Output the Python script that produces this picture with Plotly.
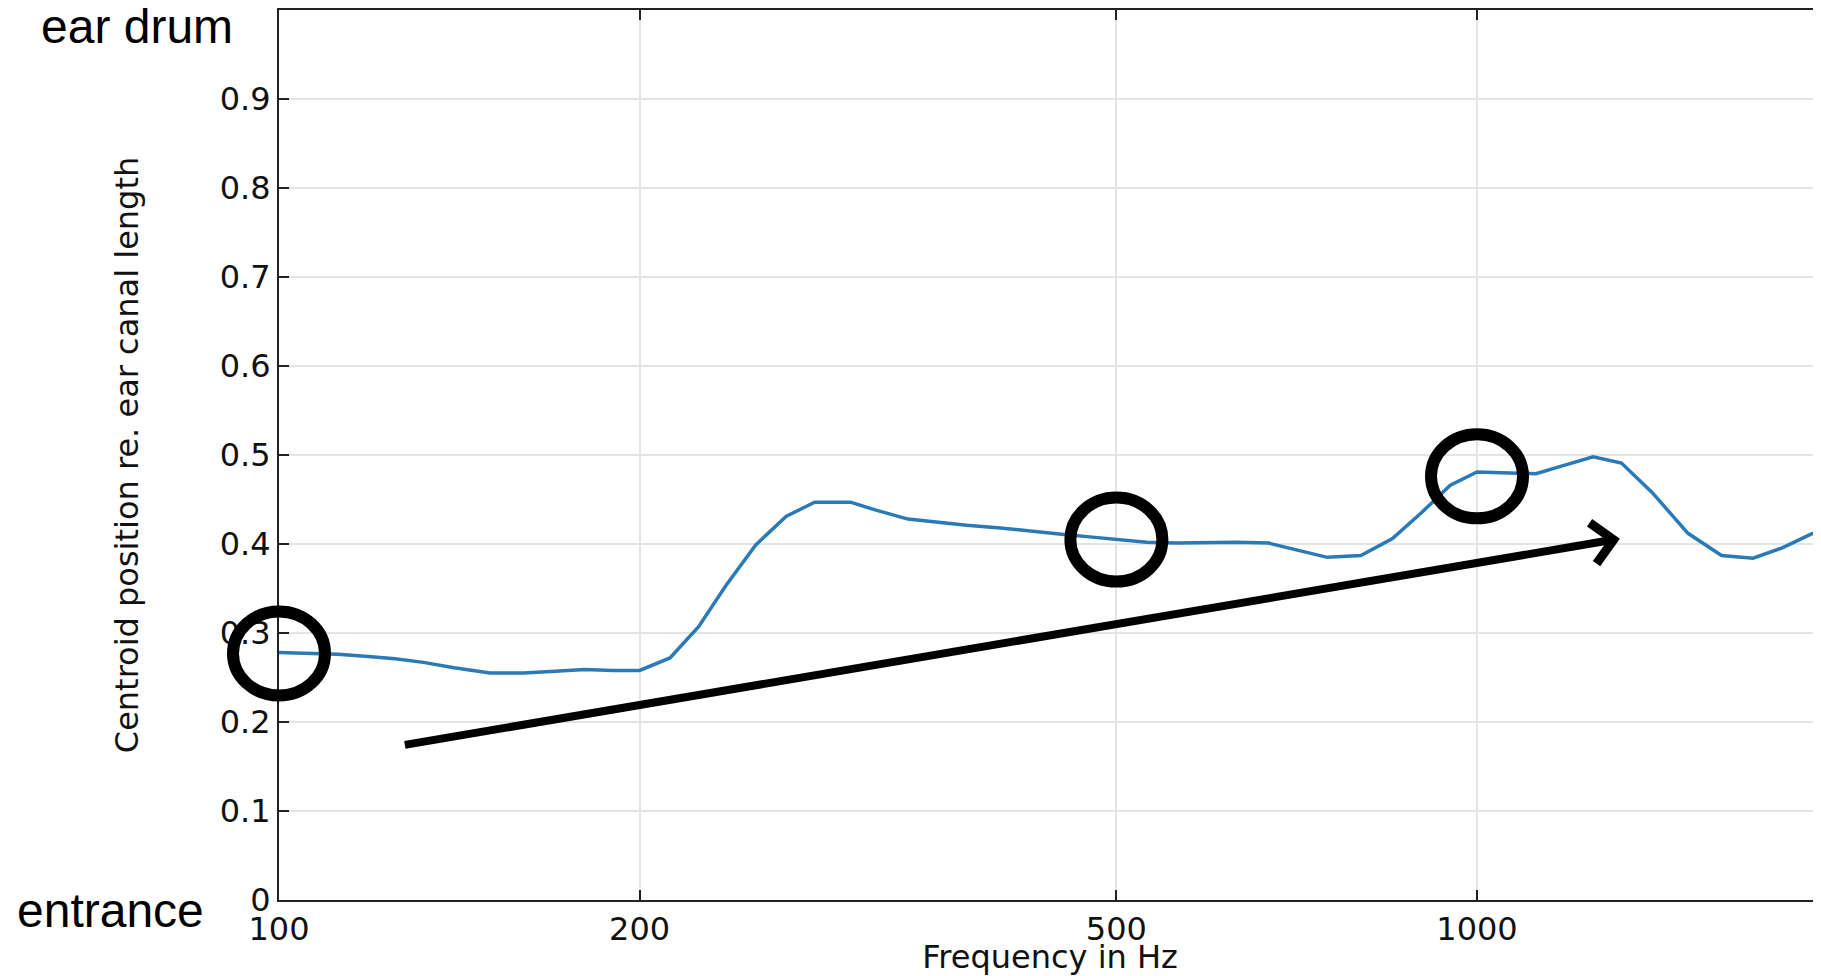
import math
import plotly.graph_objects as go

# ---- data ----
freqs = [100, 106, 112, 118, 125, 132, 140, 150, 160, 170, 180, 190, 200,
         212, 224, 236, 250, 265, 280, 300, 315, 335, 355, 375, 400, 425,
         450, 475, 500, 530, 560, 600, 630, 670, 710, 750, 800, 850, 900,
         950, 1000, 1060, 1120, 1180, 1250, 1320, 1400, 1500, 1600, 1700,
         1800, 1900, 2000]
centroid = [0.278, 0.277, 0.276, 0.274, 0.271, 0.267, 0.261, 0.255, 0.255,
            0.257, 0.259, 0.258, 0.258, 0.272, 0.307, 0.353, 0.399, 0.431,
            0.447, 0.447, 0.438, 0.428, 0.424, 0.421, 0.418, 0.414, 0.411,
            0.408, 0.405, 0.402, 0.401, 0.402, 0.402, 0.401, 0.393, 0.385,
            0.387, 0.406, 0.436, 0.466, 0.481, 0.480, 0.479, 0.488, 0.498,
            0.491, 0.458, 0.412, 0.387, 0.384, 0.396, 0.411, 0.422]

x_tick_vals = [100, 200, 500, 1000, 2000]
x_tick_text = ["100", "200", "500", "1000", "2000"]
y_tick_vals = [0, 0.1, 0.2, 0.3, 0.4, 0.5, 0.6, 0.7, 0.8, 0.9]
y_tick_text = ["0", "0.1", "0.2", "0.3", "0.4", "0.5", "0.6", "0.7", "0.8", "0.9"]

circle_freqs = [100, 500, 1000]
circle_values = [0.277, 0.405, 0.476]

arrow_start = (127, 0.174)
arrow_end = (1316, 0.406)

x_min, x_max = 100, 1937

# ---- figure ----
fig = go.Figure()
fig.add_trace(go.Scatter(
    x=freqs, y=centroid, mode="lines",
    line=dict(color="#2a7ab5", width=3.5),
    showlegend=False, hoverinfo="skip",
))

font = "DejaVu Sans"
axis_common = dict(
    showline=True, linecolor="#222222", linewidth=2,
    ticks="inside", ticklen=10, tickwidth=2, tickcolor="#222222",
    showgrid=True, gridcolor="#e4e4e4", gridwidth=1.5,
    zeroline=False,
    tickfont=dict(family=font, size=32, color="#111111"),
)

fig.update_xaxes(
    type="log", range=[math.log10(x_min), math.log10(x_max)],
    tickvals=x_tick_vals, ticktext=x_tick_text, mirror="ticks",
    title=dict(text="Frequency in Hz", font=dict(family=font, size=32, color="#111111"),
               standoff=0),
    **axis_common,
)
fig.update_yaxes(
    range=[0, 1], tickvals=y_tick_vals, ticktext=y_tick_text, mirror=False,
    title=dict(text="Centroid position re. ear canal length",
               font=dict(family=font, size=32, color="#111111"), standoff=72),
    **axis_common,
)


def x_domain_pos(f):
    """Position of frequency f along the log x axis, as a fraction of its length."""
    lo, hi = math.log10(x_min), math.log10(x_max)
    return (math.log10(f) - lo) / (hi - lo)


# highlight circles (drawn above the axes, not clipped at the plot edge)
shapes = []
for f, v in zip(circle_freqs, circle_values):
    shapes.append(dict(
        type="circle", layer="above", xref="x domain", yref="y",
        xsizemode="pixel", ysizemode="pixel",
        xanchor=x_domain_pos(f), yanchor=v,
        x0=-46, x1=46, y0=-42, y1=42,
        line=dict(color="black", width=12),
    ))

annotations = [
    dict(x=math.log10(arrow_end[0]), y=arrow_end[1], xref="x", yref="y",
         ax=math.log10(arrow_start[0]), ay=arrow_start[1], axref="x", ayref="y",
         text="", showarrow=True, arrowhead=4, arrowsize=1, arrowwidth=8,
         arrowcolor="black", standoff=0, startstandoff=0),
    dict(text="ear drum", xref="paper", yref="paper", x=-0.1556, y=0.981,
         xanchor="left", yanchor="middle", showarrow=False,
         font=dict(family="Liberation Sans", size=48, color="black")),
    dict(text="entrance", xref="paper", yref="paper", x=-0.1712, y=-0.0117,
         xanchor="left", yanchor="middle", showarrow=False,
         font=dict(family="Liberation Sans", size=48, color="black")),
]

# the page body has an 8 px default margin, so the figure is sized to fit
# the 1821x976 window from that offset
fig.update_layout(
    width=1813, height=968,
    margin=dict(l=271, r=0, t=2, b=76, autoexpand=False),
    paper_bgcolor="white", plot_bgcolor="white",
    shapes=shapes, annotations=annotations,
    showlegend=False,
)

fig.write_html("out.html")
